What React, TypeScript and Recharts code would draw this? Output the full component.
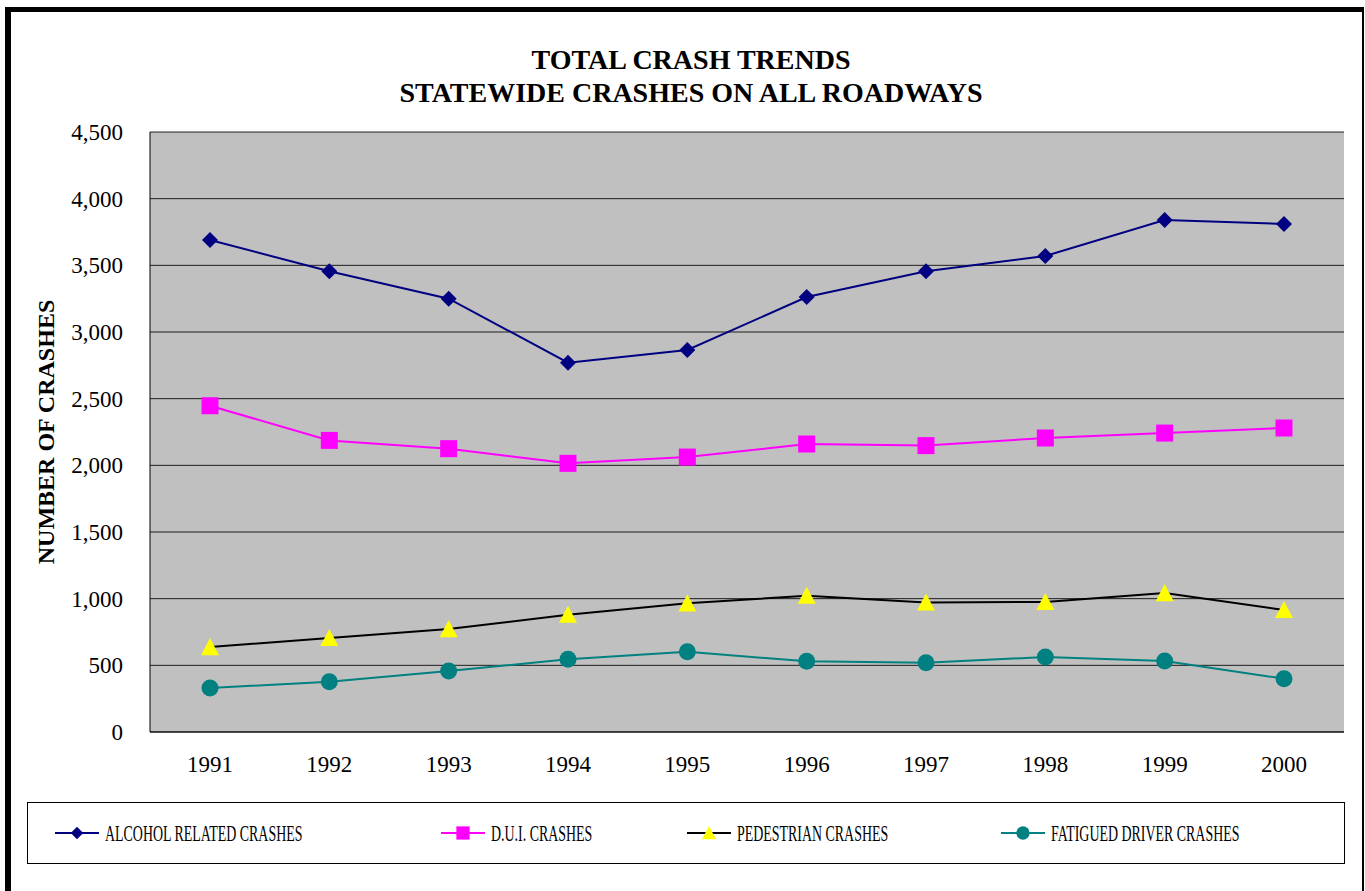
import { CartesianGrid, Line, LineChart, XAxis, YAxis } from "recharts";

const years = ["1991", "1992", "1993", "1994", "1995", "1996", "1997", "1998", "1999", "2000"];
const alcohol = [3690, 3455, 3250, 2770, 2865, 3262, 3455, 3570, 3840, 3810];
const dui = [2447, 2187, 2125, 2015, 2062, 2160, 2148, 2205, 2242, 2280];
const pedestrian = [637, 705, 772, 880, 965, 1022, 972, 975, 1042, 915];
const fatigued = [330, 377, 457, 545, 602, 530, 520, 562, 532, 400];
const yTicks = [0, 500, 1000, 1500, 2000, 2500, 3000, 3500, 4000, 4500];

const SERIES = [
  { key: "alcohol", name: "ALCOHOL RELATED CRASHES", color: "#000080", shape: "diamond" },
  { key: "dui", name: "D.U.I. CRASHES", color: "#FF00FF", shape: "square" },
  { key: "pedestrian", name: "PEDESTRIAN CRASHES", color: "#000000", shape: "triangle" },
  { key: "fatigued", name: "FATIGUED DRIVER CRASHES", color: "#008080", shape: "circle" },
];

const data = years.map((year, i) => ({
  year,
  alcohol: alcohol[i],
  dui: dui[i],
  pedestrian: pedestrian[i],
  fatigued: fatigued[i],
}));

const FONT = "'Liberation Serif', 'Times New Roman', serif";

function Marker({ shape, cx, cy, color, s = 1 }: { shape: string; cx: number; cy: number; color: string; s?: number }) {
  if (shape === "diamond") {
    const d = 8 * s;
    return <polygon points={`${cx},${cy - d} ${cx + d},${cy} ${cx},${cy + d} ${cx - d},${cy}`} fill="#000080" />;
  }
  if (shape === "square") {
    const h = 8.5 * s;
    return <rect x={cx - h} y={cy - h} width={2 * h} height={2 * h} fill="#FF00FF" />;
  }
  if (shape === "triangle") {
    const h = 9 * s;
    return <polygon points={`${cx},${cy - h} ${cx + h},${cy + h * 0.9} ${cx - h},${cy + h * 0.9}`} fill="#FFFF00" />;
  }
  return <circle cx={cx} cy={cy} r={8.5 * s} fill={color} />;
}

const makeDot = (shape: string, color: string) => (props: any) => {
  const { cx, cy, index } = props;
  if (cx == null || cy == null) return <g key={index} />;
  return <Marker key={index} shape={shape} cx={cx} cy={cy} color={color} />;
};

const ITEM_LEFT = [27, 413, 659, 973];

function LegendBox() {
  return (
    <div
      style={{
        position: "absolute",
        left: 27,
        top: 802,
        width: 1316,
        height: 60,
        border: "1px solid #000",
        background: "#fff",
        fontFamily: FONT,
        fontSize: 24,
        color: "#000",
      }}
    >
      {SERIES.map((s, i) => (
        <div
          key={s.key}
          style={{ position: "absolute", left: ITEM_LEFT[i], top: 16, height: 28, display: "flex", alignItems: "center", whiteSpace: "nowrap" }}
        >
          <svg width={44} height={20} style={{ marginRight: 6 }}>
            <line x1={0} y1={10} x2={44} y2={10} stroke={s.color} strokeWidth={2} />
            <Marker shape={s.shape} cx={22} cy={10} color={s.color} s={0.78} />
          </svg>
          <span style={{ display: "inline-block", transform: "scaleX(0.58)", transformOrigin: "left center" }}>{s.name}</span>
        </div>
      ))}
    </div>
  );
}

export default function App() {
  return (
    <div style={{ position: "absolute", left: 0, top: 0, width: 1365, height: 891, background: "#fff", overflow: "hidden" }}>
      <div
        style={{
          position: "absolute",
          left: 5,
          top: 7,
          width: 1351,
          height: 900,
          borderLeft: "6px solid #000",
          borderTop: "5px solid #000",
          borderRight: "2px solid #000",
        }}
      />
      <div
        style={{
          position: "absolute",
          left: 0,
          top: 43,
          width: 1382,
          textAlign: "center",
          fontFamily: FONT,
          fontWeight: "bold",
          fontSize: 28,
          lineHeight: "33px",
          color: "#000",
        }}
      >
        TOTAL CRASH TRENDS
        <br />
        STATEWIDE CRASHES ON ALL ROADWAYS
      </div>
      <div style={{ position: "absolute", left: 0, top: 0 }}>
        <LineChart width={1365} height={891} data={data} margin={{ top: 132, right: 21, bottom: 129, left: 0 }}>
          <CartesianGrid vertical={false} fill="#C0C0C0" stroke="#000" strokeOpacity={0.85} />
          <XAxis
            dataKey="year"
            height={30}
            padding={{ left: 60, right: 60 }}
            axisLine={{ stroke: "#000" }}
            tickLine={false}
            tickSize={0}
            tickMargin={24}
            tick={{ fill: "#000", fontSize: 23, fontFamily: FONT }}
            interval={0}
          />
          <YAxis
            width={150}
            domain={[0, 4500]}
            ticks={yTicks}
            axisLine={{ stroke: "#000" }}
            tickLine={false}
            tickSize={0}
            tickMargin={27}
            tickFormatter={(v) => v.toLocaleString("en-US")}
            tick={{ fill: "#000", fontSize: 23, fontFamily: FONT }}
            label={{
              value: "NUMBER OF CRASHES",
              angle: -90,
              position: "insideLeft",
              offset: 45,
              style: { fill: "#000", fontSize: 24, fontWeight: "bold", fontFamily: FONT, textAnchor: "middle" },
            }}
          />
          <YAxis
            yAxisId="frame"
            orientation="right"
            width={0}
            axisLine={{ stroke: "#808080" }}
            tick={false}
            tickLine={false}
          />
          {SERIES.map((s) => (
            <Line
              key={s.key}
              dataKey={s.key}
              name={s.name}
              stroke={s.color}
              strokeWidth={2}
              dot={makeDot(s.shape, s.color)}
              activeDot={false}
              isAnimationActive={false}
            />
          ))}
        </LineChart>
      </div>
      <LegendBox />
    </div>
  );
}
